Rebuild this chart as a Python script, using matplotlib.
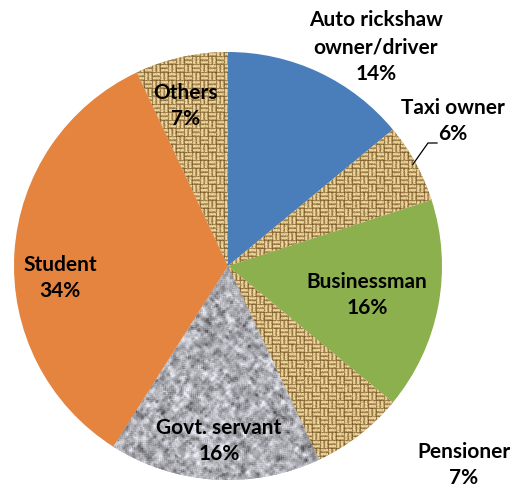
import numpy as np
import matplotlib
matplotlib.use("Agg")
import matplotlib.pyplot as plt

# occupation shares (%), clockwise from 12 o'clock
categories = ["Auto rickshaw\nowner/driver", "Taxi owner", "Businessman",
              "Pensioner", "Govt. servant", "Student", "Others"]
shares = [14, 6, 16, 7, 16, 34, 7]
fills = ["#4A7EBB", "burlap", "#8DB04E", "burlap", "granite", "#E5843F", "burlap"]

W, H = 516, 488
CX, CY, R = 228, 266, 214          # pie centre / radius in pixel units (y from top)

# label centres in pixel units (y from top)
label_pos = [(376, 47), (453, 121), (367, 295), (464, 465), (219, 441), (60, 278), (186, 106)]

rng = np.random.default_rng(7)


def blur(a, k):
    out = np.zeros_like(a)
    for dy in range(-k, k + 1):
        for dx in range(-k, k + 1):
            out += np.roll(np.roll(a, dy, 0), dx, 1)
    return out / (2 * k + 1) ** 2


def burlap_texture():
    yy, xx = np.mgrid[0:H, 0:W]
    cell = 8
    horiz = ((yy // cell) + (xx // cell)) % 2 == 0
    t = np.where(horiz, yy % 4, xx % 4)
    b = np.array([0.35, 0.85, 0.95, 0.55])[t]
    edge = np.where(horiz, xx % cell == 0, yy % cell == 0)
    b = np.where(edge, b * 0.3, b)
    b = np.clip(b + rng.normal(0, 0.08, b.shape), 0, 1)
    dark = np.array([118, 84, 36]) / 255
    light = np.array([242, 218, 158]) / 255
    return dark + (light - dark) * b[..., None]


def granite_texture():
    n = rng.normal(0, 1, (H, W))
    g = blur(n, 1) * 0.9 + blur(n, 3) * 1.6
    g = (g - g.mean()) / g.std()
    specks = blur((rng.random((H, W)) > 0.985).astype(float), 1)
    v = 0.70 + 0.09 * g - 0.9 * specks
    v = np.clip(v, 0.25, 0.95)
    return np.dstack([v * 0.98, v * 0.98, v * 1.02]).clip(0, 1)


textures = {"burlap": burlap_texture(), "granite": granite_texture()}
fallback = {"burlap": "#C8A868", "granite": "#B0B0B4"}

fig = plt.figure(figsize=(W / 100, H / 100), dpi=100)
ax = fig.add_axes([0, 0, 1, 1])

wedges, _ = ax.pie(shares, startangle=90, counterclock=False,
                   colors=[fallback.get(f, f) for f in fills],
                   center=(CX, H - CY), radius=R, frame=True,
                   wedgeprops=dict(linewidth=0))

for w, f in zip(wedges, fills):
    if f in textures:
        im = ax.imshow(textures[f], extent=(0, W, 0, H), origin="upper",
                       interpolation="bilinear", zorder=w.get_zorder() + 0.1)
        im.set_clip_path(w)

font = dict(family=["Lato", "DejaVu Sans"], fontweight="bold", fontsize=15,
            color="black", ha="center", va="center", linespacing=1.42, zorder=10)
for cat, val, (x, y) in zip(categories, shares, label_pos):
    ax.text(x, H - y, f"{cat}\n{val}%", **font)

# leader line for the thin taxi slice
w = wedges[1]
mid = np.deg2rad((w.theta1 + w.theta2) / 2)
x0, y0 = CX + (R - 3) * np.cos(mid), H - CY + (R - 3) * np.sin(mid)
ax.plot([x0, 428, 437], [y0, H - 143, H - 143], color="black", lw=0.9, zorder=9)

ax.set_xlim(0, W)
ax.set_ylim(0, H)
ax.set_aspect("auto")
ax.axis("off")
fig.savefig("out.png", dpi=100)
